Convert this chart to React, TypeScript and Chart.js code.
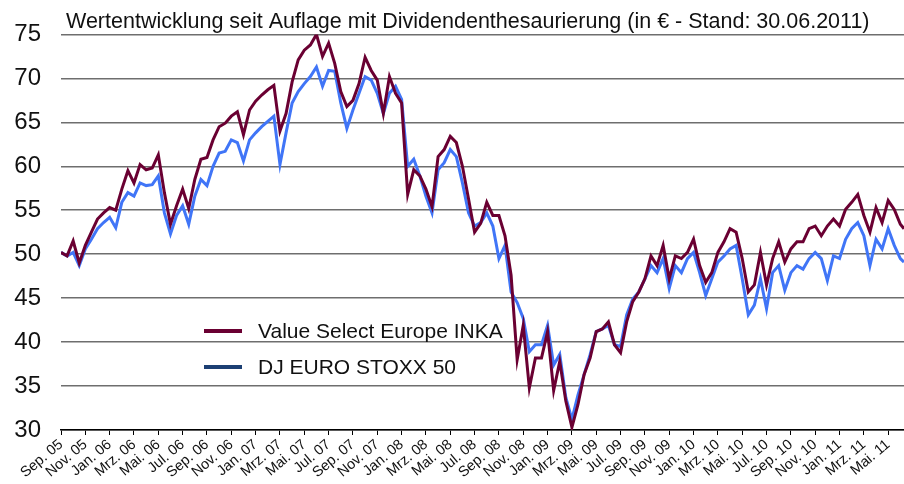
import React, { useEffect, useRef } from "react";
import { Chart, registerables } from "chart.js";

Chart.register(...registerables);

// month offsets since 01.09.2005
const months = [
  0, 0.5, 1, 1.5, 2, 2.5, 3, 3.5, 4, 4.5, 5, 5.5, 6, 6.5, 7, 7.5, 8, 8.5, 9, 9.5,
  10, 10.5, 11, 11.5, 12, 12.5, 13, 13.5, 14, 14.5, 15, 15.5, 16, 16.5, 17, 17.5, 18, 18.5, 19, 19.5,
  20, 20.5, 21, 21.5, 22, 22.5, 23, 23.5, 24, 24.5, 25, 25.5, 26, 26.5, 27, 27.5, 28, 28.5, 29, 29.5,
  30, 30.5, 31, 31.5, 32, 32.5, 33, 33.5, 34, 34.5, 35, 35.5, 36, 36.5, 37, 37.5, 38, 38.5, 39, 39.5,
  40, 40.5, 41, 41.5, 42, 42.5, 43, 43.5, 44, 44.5, 45, 45.5, 46, 46.5, 47, 47.5, 48, 48.5, 49, 49.5,
  50, 50.5, 51, 51.5, 52, 52.5, 53, 53.5, 54, 54.5, 55, 55.5, 56, 56.5, 57, 57.5, 58, 58.5, 59, 59.5,
  60, 60.5, 61, 61.5, 62, 62.5, 63, 63.5, 64, 64.5, 65, 65.5, 66, 66.5, 67, 67.5, 68, 68.5, 69, 69.3,
];

const inka = [
  50.2, 49.8, 51.5, 49.0, 51.0, 52.5, 54.0, 54.7, 55.3, 55.0, 57.4, 59.5, 58.1, 60.2, 59.6, 59.8, 61.3, 57.0, 53.4, 55.5,
  57.4, 55.2, 58.5, 60.8, 61.0, 63.0, 64.5, 64.9, 65.7, 66.2, 63.6, 66.4, 67.4, 68.1, 68.7, 69.2, 64.0, 66.0, 69.6, 72.1,
  73.2, 73.8, 75.0, 72.5, 74.0, 71.7, 68.5, 66.8, 67.5, 69.4, 72.4, 70.9, 69.8, 66.0, 70.2, 68.3, 67.2, 56.8, 59.6, 58.9,
  57.4, 55.4, 61.1, 61.9, 63.4, 62.7, 60.0, 56.3, 52.5, 53.5, 55.9, 54.4, 54.4, 52.1, 47.6, 38.0, 41.9, 34.8, 38.2, 38.2,
  41.2, 34.5, 37.8, 33.3, 30.3, 32.9, 36.3, 38.2, 41.2, 41.5, 42.3, 39.7, 38.8, 42.3, 44.6, 45.7, 47.2, 49.8, 48.7, 51.0,
  47.2, 49.8, 49.5, 50.2, 51.7, 48.7, 46.8, 47.9, 50.2, 51.4, 52.9, 52.5, 49.5, 45.7, 46.5, 50.2, 46.5, 49.5, 51.4, 49.1,
  50.6, 51.4, 51.4, 52.9, 53.2, 52.1, 53.2, 54.0, 53.2, 55.1, 55.9, 56.8, 54.4, 52.5, 55.3, 53.6, 56.1, 55.1, 53.4, 52.9,
];

const stoxx = [
  50.2, 49.8, 50.2, 48.7, 50.6, 51.7, 52.9, 53.6, 54.2, 53.0, 55.9, 57.0, 56.6, 58.1, 57.8, 57.9, 58.9, 54.7, 52.3, 54.4,
  55.5, 53.4, 56.6, 58.5, 57.8, 60.0, 61.5, 61.7, 63.0, 62.7, 60.6, 63.0, 63.8, 64.5, 65.1, 65.7, 60.2, 63.8, 67.2, 68.5,
  69.4, 70.2, 71.3, 69.1, 70.9, 70.8, 67.2, 64.3, 66.4, 68.3, 70.2, 69.8, 68.3, 66.0, 68.3, 69.1, 67.6, 60.0, 60.8, 58.9,
  56.6, 54.7, 59.6, 60.4, 61.9, 61.1, 58.1, 54.7, 53.2, 53.6, 54.7, 53.2, 49.5, 51.0, 45.7, 44.5, 42.7, 38.9, 39.7, 39.7,
  41.9, 37.4, 38.6, 33.7, 31.2, 34.0, 36.3, 38.6, 41.2, 41.5, 41.9, 39.7, 39.5, 43.1, 44.9, 45.7, 47.2, 48.7, 47.9, 49.5,
  46.1, 48.7, 47.9, 49.5, 50.2, 47.9, 45.3, 47.2, 49.1, 49.8, 50.6, 51.0, 47.2, 43.1, 44.2, 47.2, 43.8, 47.9, 48.7, 45.9,
  47.9, 48.7, 48.3, 49.5, 50.2, 49.5, 47.0, 49.8, 49.5, 51.7, 52.9, 53.6, 52.1, 48.7, 51.7, 50.6, 52.9, 51.0, 49.5, 49.1,
];

const tickMonths = [
  0, 2, 4, 6, 8, 10, 12, 14, 16, 18, 20, 22, 24, 26, 28, 30, 32, 34,
  36, 38, 40, 42, 44, 46, 48, 50, 52, 54, 56, 58, 60, 62, 64, 66, 68,
];
const tickLabels = [
  "Sep. 05", "Nov. 05", "Jan. 06", "Mrz. 06", "Mai. 06", "Jul. 06", "Sep. 06", "Nov. 06", "Jan. 07",
  "Mrz. 07", "Mai. 07", "Jul. 07", "Sep. 07", "Nov. 07", "Jan. 08", "Mrz. 08", "Mai. 08", "Jul. 08",
  "Sep. 08", "Nov. 08", "Jan. 09", "Mrz. 09", "Mai. 09", "Jul. 09", "Sep. 09", "Nov. 09", "Jan. 10",
  "Mrz. 10", "Mai. 10", "Jul. 10", "Sep. 10", "Nov. 10", "Jan. 11", "Mrz. 11", "Mai. 11",
];

const seriesNames = ["Value Select Europe INKA", "DJ EURO STOXX 50"];
const lineColors = ["#6a0032", "#4075f7"];
const legendColors = ["#6a0032", "#1c3f73"];
const titleText = "Wertentwicklung seit Auflage mit Dividendenthesaurierung (in € - Stand: 30.06.2011)";

const FONT = "'Liberation Sans', Arial, Helvetica, sans-serif";

const overlayPlugin = {
  id: "overlay",
  afterDraw(chart: any) {
    const ctx = chart.ctx;
    ctx.save();
    ctx.fillStyle = "#111";
    ctx.font = `21.5px ${FONT}`;
    ctx.textAlign = "left";
    ctx.textBaseline = "alphabetic";
    ctx.fillText(titleText, 66, 28);
    const ys = [331, 367];
    seriesNames.forEach((name, i) => {
      ctx.strokeStyle = legendColors[i];
      ctx.lineWidth = 4;
      ctx.beginPath();
      ctx.moveTo(204, ys[i]);
      ctx.lineTo(242, ys[i]);
      ctx.stroke();
      ctx.fillStyle = "#111";
      ctx.font = `21px ${FONT}`;
      ctx.textBaseline = "middle";
      ctx.fillText(name, 258, ys[i] + 1);
    });
    ctx.restore();
  },
};

export default function App() {
  const ref = useRef<HTMLCanvasElement | null>(null);
  useEffect(() => {
    if (!ref.current) return;
    const chart = new Chart(ref.current, {
      type: "line",
      data: {
        datasets: [
          {
            label: seriesNames[0],
            data: months.map((m, i) => ({ x: m, y: inka[i] })),
            borderColor: lineColors[0],
            borderWidth: 3,
            pointRadius: 0,
            tension: 0,
          },
          {
            label: seriesNames[1],
            data: months.map((m, i) => ({ x: m, y: stoxx[i] })),
            borderColor: lineColors[1],
            borderWidth: 3,
            pointRadius: 0,
            tension: 0,
          },
        ],
      },
      options: {
        responsive: false,
        animation: false,
        layout: { padding: { top: 32, left: 0, right: 0, bottom: 0 } },
        plugins: { legend: { display: false }, tooltip: { enabled: false }, title: { display: false } },
        scales: {
          x: {
            type: "linear",
            min: 0,
            max: 69.3,
            afterBuildTicks: (axis: any) => {
              axis.ticks = tickMonths.map((v) => ({ value: v }));
            },
            afterFit: (axis: any) => {
              axis.height = 54;
            },
            ticks: {
              autoSkip: false,
              minRotation: 40,
              maxRotation: 40,
              padding: 1,
              color: "#111",
              font: { family: FONT, size: 14.5 },
              callback: (v: any) => {
                const i = tickMonths.indexOf(Number(v));
                return i >= 0 ? tickLabels[i] : "";
              },
            },
            grid: { drawOnChartArea: false, drawTicks: true, tickLength: 5, color: "#000", lineWidth: 1 },
            border: { display: true, color: "#000", width: 1.5 },
          },
          y: {
            min: 30,
            max: 75,
            afterFit: (axis: any) => {
              axis.width = 61;
            },
            ticks: {
              stepSize: 5,
              padding: 20,
              color: "#111",
              font: { family: FONT, size: 24 },
            },
            grid: { drawTicks: false, color: "#6e6e6e", lineWidth: 1.5 },
            border: { display: false },
          },
        },
      },
      plugins: [overlayPlugin],
    });
    return () => chart.destroy();
  }, []);
  return (
    <div style={{ position: "fixed", left: 0, top: 0, width: 904, height: 484, background: "#fff" }}>
      <canvas ref={ref} width={904} height={484} style={{ display: "block" }} />
    </div>
  );
}
